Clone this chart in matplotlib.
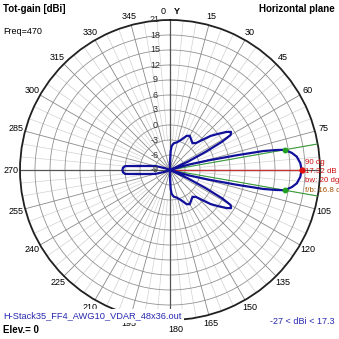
import numpy as np
import matplotlib
matplotlib.use("Agg")
import matplotlib.pyplot as plt

plt.rcParams['font.family'] = ['Liberation Sans', 'DejaVu Sans']

# Azimuth pattern (compass degrees, clockwise from north) and total gain in dBi
azimuth_deg = [0, 2, 4, 8, 14, 20, 26, 30, 35, 40, 44, 47, 50, 53, 56, 58, 60, 61.5,
               63, 65, 67, 70, 72, 74, 76, 77.5, 78.5, 79.3, 80, 82, 84, 87, 90,
               93, 96, 98, 100, 100.7, 101.5, 102.5, 104, 106, 108, 110, 113, 115,
               117, 118.5, 120, 122, 124, 127, 130, 133, 136, 140, 145, 150, 154,
               160, 166, 172, 176, 178, 180, 183, 190, 220, 245, 250, 255, 258.5,
               262.3, 264, 265, 267, 270, 273, 275, 276, 277.7, 281.5, 285.5, 290,
               295, 310, 340, 355, 358]
gain_dbi = [-7.5, -5.2, -4.2, -3.6, -3.3, -2.6, -1.4, -1.1, -1.6, -2.0, -1.5, -0.2,
            1.6, 3.0, 4.6, 5.4, 5.0, 2.8, -1.0, -5.0, -12, -20, -12, -5, -1, 4.5,
            10, 12.5, 14.3, 15.6, 16.5, 17.1, 17.32, 17.1, 16.5, 15.6, 14.3, 12.5,
            10, 4.5, -1, -5, -12, -20, -12, -5, -1, 2.8, 5.0, 5.4, 4.6, 3.0, 1.6,
            -0.2, -1.5, -2.0, -1.6, -1.1, -1.4, -2.6, -3.3, -3.6, -4.2, -5.2, -7.5,
            -15, -22, -27, -12, -8, -6, -5, -3, -1.4, 0.0, 0.4, 0.52, 0.4, 0.0,
            -1.4, -3, -5, -6, -8, -12, -22, -27, -18, -12]

# Scale and markers
r_min, r_max = -9, 21
ring_values = [21, 18, 15, 12, 9, 6, 3, 0, -3, -6, -9]
angle_labels = [0, 15, 30, 45, 60, 75, 105, 120, 135, 150, 165, 180, 195, 210,
                225, 240, 255, 270, 285, 300, 315, 330, 345]
peak_az, peak_gain = 90, 17.32
half_power_az = [80, 100]
half_power_gain = [14.3, 14.3]
beamwidth = 20
front_to_back = 16.8
gain_range = (-27, 17.3)

W = H = 339
fig = plt.figure(figsize=(W / 100, H / 100), dpi=100)
cx, cy, R = 170, 170, 150
ax = fig.add_axes([(cx - R) / W, (H - cy - R) / H, 2 * R / W, 2 * R / H],
                  projection='polar')
ax.set_theta_zero_location('N')
ax.set_theta_direction(-1)
ax.set_ylim(r_min, r_max)
ax.grid(False)
ax.set_xticks([])
ax.set_yticks([])
ax.spines['polar'].set_color('#202020')
ax.spines['polar'].set_linewidth(1.3)

# Grid rings
full = np.linspace(0, 2 * np.pi, 361)
for v in ring_values[1:-1]:
    ax.plot(full, np.full_like(full, v), color='#939393', lw=0.6, zorder=1)

# Radial lines
for a in range(0, 360, 5):
    t = np.radians(a)
    if a % 90 == 0:
        ax.plot([t, t], [r_min, r_max], color='#555555', lw=0.9, zorder=2)
    elif a % 15 == 0:
        ax.plot([t, t], [r_min, r_max], color='#8a8a8a', lw=0.6, zorder=1)
    else:
        ax.plot([t, t], [-3, r_max], color='#d2d2d2', lw=0.5, zorder=0.5)

# Ring value labels along the 0 degree line
for v in ring_values:
    y = cy - (v - r_min) * R / (r_max - r_min)
    fig.text(155 / W, 1 - y / H, str(v), fontsize=6.5, color='#303030',
             ha='center', va='center', zorder=1)

# Azimuth labels
for a in angle_labels:
    t = np.radians(a)
    x = cx + 159 * np.sin(t)
    y = cy - 159 * np.cos(t)
    if a == 0:
        x -= 7
    if a == 180:
        x += 6
    fig.text(x / W, 1 - y / H, str(a), fontsize=6.5, color='black',
             ha='center', va='center')
fig.text(177 / W, 1 - 11.5 / H, 'Y', fontsize=6.5, fontweight='bold',
         ha='center', va='center')

# Beam markers
for az in half_power_az:
    t = np.radians(az)
    ax.plot([t, t], [r_min, r_max], color='#3c9c3c', lw=0.8, zorder=3)
ax.plot([np.radians(peak_az)] * 2, [r_min, peak_gain], color='#c83232',
        lw=0.9, zorder=3)

# Pattern trace
theta = np.radians(azimuth_deg + [azimuth_deg[0]])
g = np.clip(np.array(gain_dbi + [gain_dbi[0]]), r_min, None)
ax.plot(theta, g, color='#10109a', lw=1.6, zorder=4, solid_joinstyle='round')

ax.plot(np.radians(half_power_az), half_power_gain, 'o', color='#20a020',
        ms=3.2, zorder=5)
ax.plot([np.radians(peak_az)], [peak_gain], 'o', color='#e01010', ms=3.5,
        zorder=5)

# Beam annotation
red = '#cc1010'
ann = dict(fontsize=5.7, va='center', zorder=6)
fig.text(305 / W, 1 - 162 / H, f'{peak_az} dg', color=red, **ann)
fig.text(305 / W, 1 - 171.5 / H, f'{peak_gain:.2f} dB', color=red, **ann)
fig.text(305 / W, 1 - 181 / H, f'bw: {beamwidth} dg', color=red, **ann)
fig.text(305 / W, 1 - 190 / H, f'f/b: {front_to_back} dB', color='#a05000',
         **ann)

# Header and footer text
fig.text(3 / W, 1 - 9.5 / H, 'Tot-gain [dBi]', fontsize=7, fontweight='bold',
         va='center')
fig.text(3 / W, 1 - 31 / H, 'Freq=470', fontsize=6.5, va='center')
fig.text(335 / W, 1 - 9.5 / H, 'Horizontal plane', fontsize=7,
         fontweight='bold', va='center', ha='right')
fig.text(3 / W, 1 - 316 / H, 'H-Stack35_FF4_AWG10_VDAR_48x36.out', fontsize=6.7,
         color='#2828b0', va='center', zorder=6,
         bbox=dict(boxstyle='square,pad=0.3', fc='white', ec='none'))
fig.text(3 / W, 1 - 330 / H, 'Elev.= 0', fontsize=7, fontweight='bold',
         va='center', zorder=7)
fig.text(335 / W, 1 - 322 / H, f'{gain_range[0]} < dBi < {gain_range[1]}',
         fontsize=6.5, color='#2828b0', va='center', ha='right')

fig.savefig('out.png', dpi=100, facecolor='white')
